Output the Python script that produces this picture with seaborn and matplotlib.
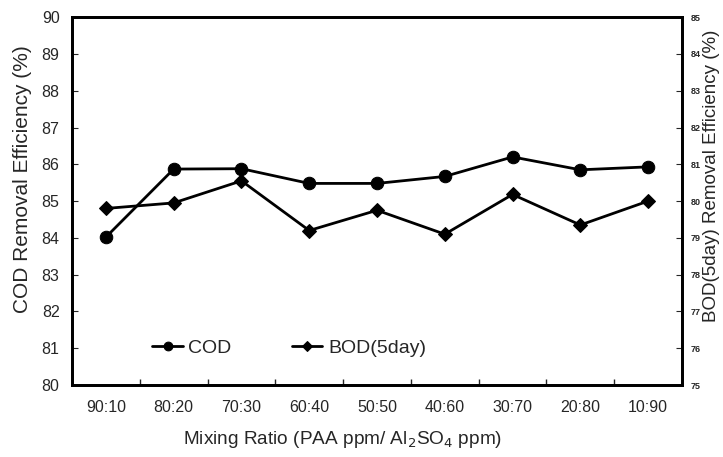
import numpy as np
import matplotlib
matplotlib.use('Agg')
import matplotlib.pyplot as plt
import seaborn as sns
from matplotlib.ticker import FixedLocator, NullFormatter

# data
ratios = ['90:10', '80:20', '70:30', '60:40', '50:50', '40:60', '30:70', '20:80', '10:90']
cod = [84.02, 85.87, 85.88, 85.48, 85.48, 85.67, 86.2, 85.85, 85.93]
bod = [79.8, 79.95, 80.55, 79.2, 79.75, 79.1, 80.18, 79.35, 80.0]

sns.set_style('ticks')
plt.rcParams['font.family'] = ['Liberation Sans', 'DejaVu Sans']

fig = plt.figure(figsize=(7.23, 4.57), dpi=100)
ax = fig.add_axes([0.0996, 0.1575, 0.8437, 0.805])
ax2 = ax.twinx()

x = np.arange(len(ratios))
sns.lineplot(x=x, y=cod, ax=ax, color='black', marker='o', markersize=9,
             linewidth=2, markeredgecolor='black', label='COD', legend=False)
sns.lineplot(x=x, y=bod, ax=ax2, color='black', marker='D', markersize=7,
             linewidth=2, markeredgecolor='black', label='BOD(5day)', legend=False)

ax.set_xlim(-0.5, len(ratios) - 0.5)
ax.set_ylim(80, 90)
ax2.set_ylim(75, 85)
ax.set_yticks(np.arange(80, 91, 1))
ax2.set_yticks(np.arange(75, 86, 1))

ax.set_xticks(x)
ax.set_xticklabels(ratios, fontsize=11.5)
ax.tick_params(axis='x', which='major', length=0, pad=11)
ax.xaxis.set_minor_locator(FixedLocator(np.arange(-0.5, len(ratios), 1)))
ax.xaxis.set_minor_formatter(NullFormatter())
ax.tick_params(axis='x', which='minor', direction='in', length=4, width=1)
ax.tick_params(axis='y', direction='in', length=4, labelsize=11.5, pad=9)
ax2.tick_params(axis='y', direction='in', length=4, labelsize=6.5, pad=6)
for t in ax2.get_yticklabels():
    t.set_fontweight('bold')

ax.set_xlabel('Mixing Ratio (PAA ppm/ Al$_2$SO$_4$ ppm)', fontsize=13.7)
ax.xaxis.set_label_coords(0.444, -0.12)
ax.set_ylabel('COD Removal Efficiency (%)', fontsize=15)
ax.yaxis.set_label_coords(-0.066, 0.56)
ax2.set_ylabel('BOD(5day) Removal Efficiency (%)', fontsize=13.5)
ax2.yaxis.set_label_coords(1.034, 0.57)

for a in (ax, ax2):
    for s in a.spines.values():
        s.set_linewidth(2)
        s.set_color('black')

h1, l1 = ax.get_legend_handles_labels()
h2, l2 = ax2.get_legend_handles_labels()
ax.legend(h1 + h2, l1 + l2, loc='center left', bbox_to_anchor=(0.116, 0.10),
          ncol=2, frameon=False, fontsize=14, columnspacing=3.1,
          handlelength=1.55, handletextpad=0.3, borderpad=0, markerscale=0.7)

plt.savefig('out.png', dpi=100)
